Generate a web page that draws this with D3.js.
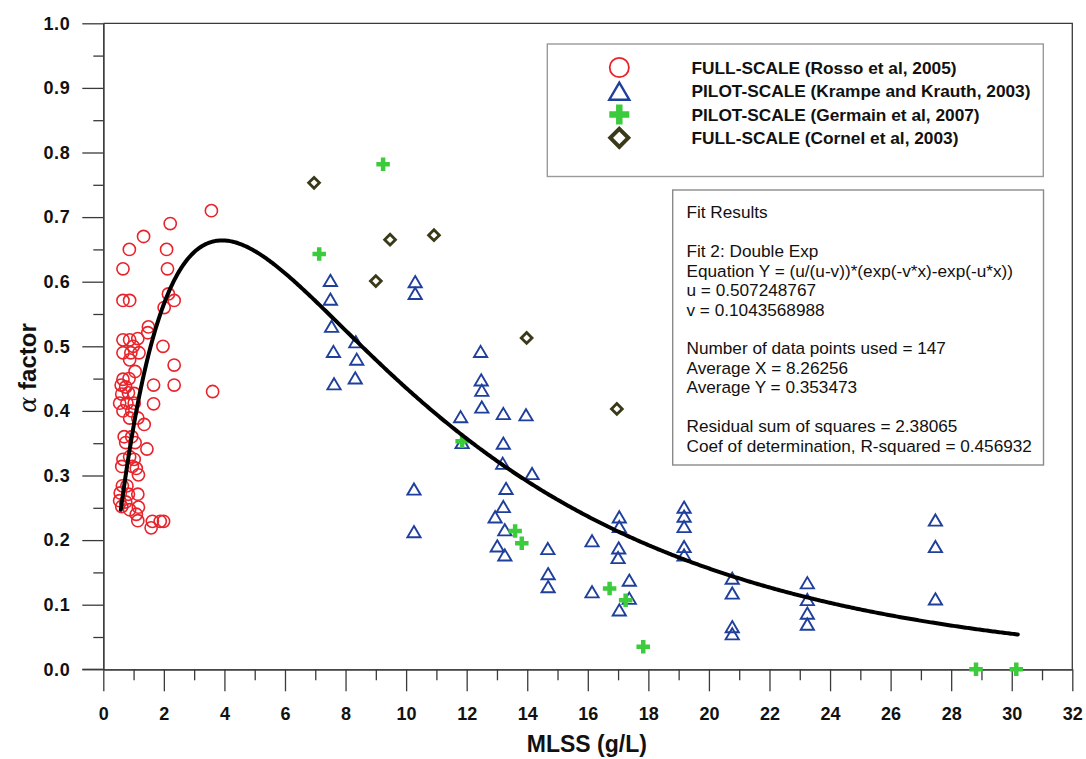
<!DOCTYPE html>
<html>
<head>
<meta charset="utf-8">
<script src="https://cdn.jsdelivr.net/npm/d3@7"></script>
<style>
  html, body { margin: 0; padding: 0; background: #fff; }
  svg { display: block; font-family: "Liberation Sans", Arial, sans-serif; }
</style>
</head>
<body>
<svg id="chart" width="1086" height="759"></svg>
<script>
// Full-scale, Rosso et al (2005): [MLSS g/L, alpha]
const rosso = [
  [3.57,0.710],[2.21,0.690],[1.33,0.670],[0.86,0.650],[2.09,0.650],[0.65,0.620],[2.12,0.620],
  [0.65,0.571],[0.87,0.571],[2.15,0.581],[2.34,0.571],[2.01,0.560],[1.49,0.530],[1.47,0.521],
  [0.65,0.510],[0.87,0.510],[1.14,0.512],[0.65,0.490],[0.91,0.490],[1.18,0.490],[0.87,0.479],
  [0.99,0.500],[1.97,0.500],[2.34,0.471],[1.05,0.461],[0.65,0.449],[0.85,0.450],[0.59,0.440],
  [0.74,0.437],[1.66,0.440],[2.34,0.440],[0.61,0.426],[0.83,0.428],[1.02,0.427],[0.54,0.412],
  [0.78,0.412],[1.02,0.412],[1.66,0.411],[3.61,0.430],[0.65,0.400],[0.94,0.400],[0.87,0.389],
  [1.14,0.389],[1.35,0.379],[0.69,0.360],[0.94,0.360],[0.74,0.351],[1.05,0.351],[1.44,0.341],
  [0.65,0.325],[0.87,0.329],[1.02,0.325],[0.61,0.314],[0.96,0.314],[1.09,0.311],[1.16,0.301],
  [0.63,0.284],[0.78,0.284],[0.56,0.273],[0.83,0.271],[1.14,0.271],[0.54,0.261],[0.74,0.259],
  [0.61,0.252],[1.16,0.251],[0.87,0.247],[1.09,0.240],[1.14,0.230],[1.58,0.219],[1.62,0.229],
  [1.88,0.229],[1.99,0.229]
];

// Pilot-scale, Krampe and Krauth (2003)
const krampe = [
  [7.50,0.602],[7.50,0.573],[7.54,0.531],[7.60,0.492],[7.62,0.442],[8.34,0.507],[8.37,0.480],
  [8.32,0.451],[10.30,0.600],[10.30,0.582],[10.26,0.279],[10.26,0.213],[11.80,0.391],[11.85,0.351],
  [12.46,0.492],[12.48,0.448],[12.50,0.432],[12.50,0.406],[13.21,0.396],[13.21,0.350],[13.19,0.319],
  [13.30,0.280],[13.21,0.252],[12.94,0.236],[13.26,0.216],[13.01,0.191],[13.26,0.177],[13.96,0.394],
  [14.16,0.303],[14.68,0.187],[14.69,0.148],[14.69,0.128],[16.14,0.199],[16.14,0.120],[17.04,0.236],
  [17.04,0.221],[17.02,0.188],[17.00,0.173],[17.04,0.092],[17.37,0.138],[17.37,0.110],[19.18,0.251],
  [19.18,0.237],[19.18,0.221],[19.18,0.190],[19.18,0.177],[20.77,0.141],[20.77,0.118],[20.77,0.066],
  [20.77,0.055],[23.25,0.134],[23.25,0.108],[23.25,0.087],[23.25,0.070],[27.48,0.231],[27.48,0.190],
  [27.48,0.109]
];

// Pilot-scale, Germain et al (2007)
const germain = [
  [7.13,0.643],[9.24,0.782],[11.85,0.353],[13.60,0.214],[13.82,0.195],[16.72,0.125],
  [17.25,0.107],[17.83,0.035],[28.82,0.000],[30.15,0.000]
];

// Full-scale, Cornel et al (2003)
const cornel = [
  [6.96,0.753],[9.00,0.601],[9.47,0.665],[10.92,0.672],[13.98,0.513],[16.96,0.403]
];

// Double-exponential fit parameters
const fitU = 0.507248767;
const fitV = 0.1043568988;
const fitRange = [0.58, 30.2];

const legendLabels = [
  "FULL-SCALE (Rosso et al, 2005)",
  "PILOT-SCALE (Krampe and Krauth, 2003)",
  "PILOT-SCALE (Germain et al, 2007)",
  "FULL-SCALE (Cornel et al, 2003)"
];

const fitLines = [
  "Fit Results", "",
  "Fit 2: Double Exp",
  "Equation Y = (u/(u-v))*(exp(-v*x)-exp(-u*x))",
  "u = 0.507248767",
  "v = 0.1043568988", "",
  "Number of data points used = 147",
  "Average X = 8.26256",
  "Average Y = 0.353473", "",
  "Residual sum of squares = 2.38065",
  "Coef of determination, R-squared = 0.456932"
];

const xMajor = d3.range(0, 33, 2);
const xMinor = d3.range(1, 32, 2);
const yMajor = d3.range(0, 11).map(i => i / 10);
const yMinor = d3.range(0, 10).map(i => i / 10 + 0.05);

(function draw() {
  const svg = d3.select("#chart");
  const plotL = 103.3, plotR = 1072.3, plotT = 23.3, plotB = 669.3;
  const x = d3.scaleLinear().domain([0, 32]).range([plotL, plotR]);
  const y = d3.scaleLinear().domain([0, 1]).range([plotB, plotT]);

  const axisColor = "#3a3a3a";

  // Frame: top and right edges
  svg.append("path")
    .attr("d", `M${plotL},${plotT}H${plotR}V${plotB}`)
    .attr("fill", "none").attr("stroke", axisColor).attr("stroke-width", 1.3);

  // X axis (minor then major)
  const gxMinor = svg.append("g").attr("transform", `translate(0,${plotB})`)
    .call(d3.axisBottom(x).tickValues(xMinor).tickSize(11).tickSizeOuter(0).tickFormat(""));
  const gx = svg.append("g").attr("transform", `translate(0,${plotB})`)
    .call(d3.axisBottom(x).tickValues(xMajor).tickSize(22).tickSizeOuter(0).tickPadding(16)
      .tickFormat(d3.format("d")));
  // Y axis
  const gyMinor = svg.append("g").attr("transform", `translate(${plotL},0)`)
    .call(d3.axisLeft(y).tickValues(yMinor).tickSize(10).tickSizeOuter(0).tickFormat(""));
  const gy = svg.append("g").attr("transform", `translate(${plotL},0)`)
    .call(d3.axisLeft(y).tickValues(yMajor).tickSize(21).tickSizeOuter(0).tickPadding(12)
      .tickFormat(d3.format(".1f")));

  [gxMinor, gx, gyMinor, gy].forEach(g => {
    g.selectAll("path.domain").attr("stroke", axisColor).attr("stroke-width", 1.3);
    g.selectAll(".tick line").attr("stroke", axisColor).attr("stroke-width", 1.3);
    g.selectAll("text").attr("fill", "#111").style("font-size", "18px").style("font-weight", "bold")
      .style("font-family", "'Liberation Sans', Arial, sans-serif");
  });
  gy.selectAll("text").attr("letter-spacing", "0.6px");
  // extend the x baseline left to the end of the y major ticks
  svg.append("line").attr("x1", plotL - 21).attr("x2", plotL).attr("y1", plotB).attr("y2", plotB)
    .attr("stroke", axisColor).attr("stroke-width", 1.3);

  // Axis titles
  svg.append("text")
    .attr("x", (plotL + plotR) / 2 - 1).attr("y", 752)
    .attr("text-anchor", "middle").attr("font-size", 23).attr("font-weight", "bold").attr("fill", "#111")
    .text("MLSS (g/L)");
  const yt = svg.append("text")
    .attr("transform", "translate(36,368) rotate(-90)")
    .attr("text-anchor", "middle").attr("font-size", 24).attr("font-weight", "bold").attr("fill", "#111");
  yt.append("tspan").attr("font-weight", "normal").attr("font-family", "'DejaVu Serif', serif")
    .attr("font-style", "italic").text("α");
  yt.append("tspan").text(" factor");

  // Marker shapes
  const triPath = (w, h) => `M0,${-h / 2}L${w / 2},${h / 2}L${-w / 2},${h / 2}Z`;
  const plusPath = (s, t) => {
    const a = s / 2, b = t / 2;
    return `M${-b},${-a}H${b}V${-b}H${a}V${b}H${b}V${a}H${-b}V${b}H${-a}V${-b}H${-b}Z`;
  };
  const diaPath = r => `M0,${-r}L${r},0L0,${r}L${-r},0Z`;

  const red = "#e8232b", blue = "#1f3f9c", green = "#3ccb3c", olive = "#3a3918";

  const pts = svg.append("g");
  pts.selectAll("circle.rosso").data(rosso).join("circle")
    .attr("class", "rosso")
    .attr("cx", d => x(d[0])).attr("cy", d => y(d[1])).attr("r", 6.1)
    .attr("fill", "none").attr("stroke", red).attr("stroke-width", 1.6);
  pts.selectAll("path.krampe").data(krampe).join("path")
    .attr("class", "krampe")
    .attr("transform", d => `translate(${x(d[0])},${y(d[1])})`)
    .attr("d", triPath(13.2, 11.2))
    .attr("fill", "none").attr("stroke", blue).attr("stroke-width", 1.9).attr("stroke-linejoin", "miter");
  pts.selectAll("path.cornel").data(cornel).join("path")
    .attr("class", "cornel")
    .attr("transform", d => `translate(${x(d[0])},${y(d[1])})`)
    .attr("d", diaPath(5.4))
    .attr("fill", "none").attr("stroke", olive).attr("stroke-width", 2.8);
  pts.selectAll("path.germain").data(germain).join("path")
    .attr("class", "germain")
    .attr("transform", d => `translate(${x(d[0])},${y(d[1])})`)
    .attr("d", plusPath(13.5, 4.5))
    .attr("fill", green);

  // Fitted curve
  const fitFn = t => (fitU / (fitU - fitV)) * (Math.exp(-fitV * t) - Math.exp(-fitU * t));
  const curveX = d3.range(fitRange[0], fitRange[1], 0.05).concat([fitRange[1]]);
  svg.append("path")
    .datum(curveX.map(t => [t, fitFn(t)]))
    .attr("d", d3.line().x(d => x(d[0])).y(d => y(d[1])))
    .attr("fill", "none").attr("stroke", "#000").attr("stroke-width", 4)
    .attr("stroke-linecap", "round");

  // Legend
  const lg = svg.append("g");
  lg.append("rect").attr("x", 547.3).attr("y", 44).attr("width", 496).attr("height", 132.5)
    .attr("fill", "#fff").attr("stroke", "#9a9a9a").attr("stroke-width", 1.4);
  const rowsY = [67.5, 91.2, 114.5, 137.8];
  const symX = 619.3;
  lg.append("circle").attr("cx", symX).attr("cy", rowsY[0]).attr("r", 9.6)
    .attr("fill", "none").attr("stroke", red).attr("stroke-width", 1.8);
  lg.append("path").attr("transform", `translate(${symX},${rowsY[1]})`).attr("d", triPath(20, 17))
    .attr("fill", "none").attr("stroke", blue).attr("stroke-width", 2.4);
  lg.append("path").attr("transform", `translate(${symX},${rowsY[2]})`).attr("d", plusPath(20, 6.5))
    .attr("fill", green);
  lg.append("path").attr("transform", `translate(${symX},${rowsY[3]})`).attr("d", diaPath(9))
    .attr("fill", "none").attr("stroke", olive).attr("stroke-width", 4);
  lg.selectAll("text").data(legendLabels).join("text")
    .attr("x", 691.5).attr("y", (d, i) => rowsY[i] + 6.2)
    .attr("font-size", 17.3).attr("font-weight", "bold").attr("fill", "#111")
    .text(d => d);

  // Fit results box
  const fb = svg.append("g");
  fb.append("rect").attr("x", 672.7).attr("y", 190).attr("width", 370.8).attr("height", 275)
    .attr("fill", "#fff").attr("stroke", "#8a8a8a").attr("stroke-width", 1.4);
  fb.selectAll("text").data(fitLines).join("text")
    .attr("x", 686.5).attr("y", (d, i) => 218.3 + i * 19.45)
    .attr("font-size", 17.2).attr("fill", "#111")
    .text(d => d);
})();
</script>
</body>
</html>
